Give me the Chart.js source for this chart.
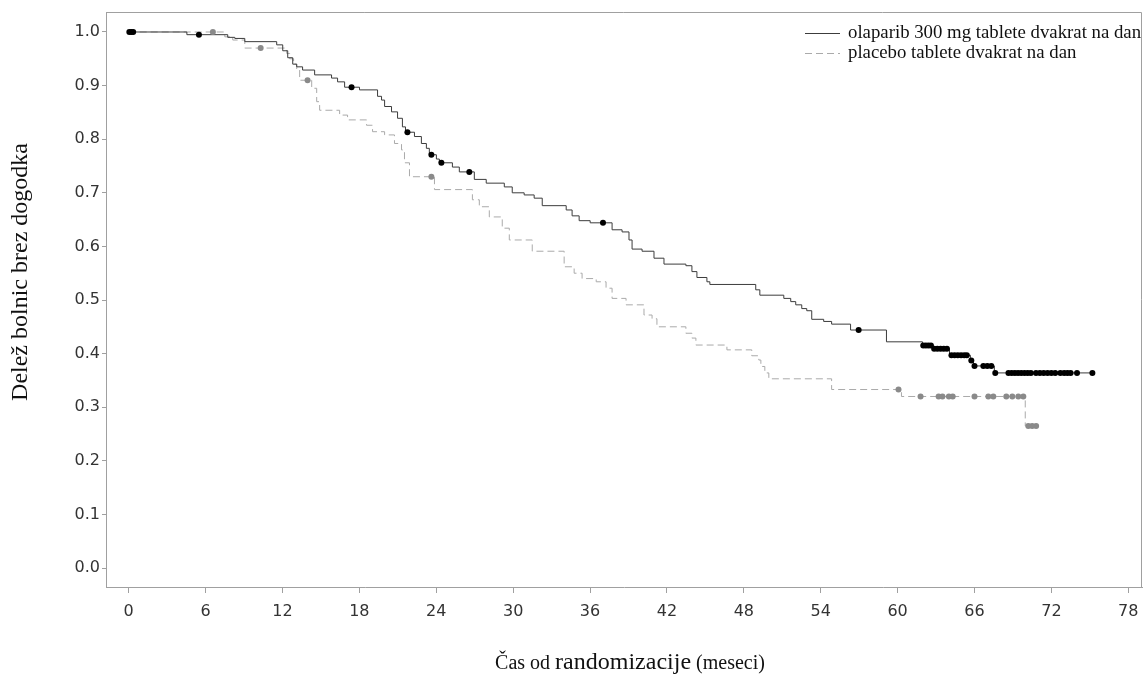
<!DOCTYPE html>
<html><head><meta charset="utf-8">
<script src="https://cdn.jsdelivr.net/npm/chart.js@4.4.1/dist/chart.umd.min.js"></script>
<style>html,body{margin:0;padding:0;background:#fff;} canvas{display:block;}</style>
</head><body>
<canvas id="c" width="1146" height="677"></canvas>
<script>
// ---------- data ----------
const xTicks = [0, 6, 12, 18, 24, 30, 36, 42, 48, 54, 60, 66, 72, 78];
const yTicks = [0.0, 0.1, 0.2, 0.3, 0.4, 0.5, 0.6, 0.7, 0.8, 0.9, 1.0];
const seriesNames = ["olaparib 300 mg tablete dvakrat na dan", "placebo tablete dvakrat na dan"];
const yTitle = "Delež bolnic brez dogodka";
const xTitleParts = ["Čas od ", "randomizacije", " (meseci)"];

// olaparib: event times (months) and survival after each step
const olapTime = [0, 4.54, 7.73, 8.28, 9.06, 11.55, 12.02, 12.41, 12.80, 13.11, 13.57, 14.51, 15.83, 16.30, 16.85, 18.01, 19.42, 19.73, 19.97, 20.51, 20.98, 21.36, 21.60, 22.30, 22.84, 23.23, 23.46, 24.01, 24.24, 25.26, 25.80, 26.97, 27.90, 29.31, 29.93, 30.86, 31.64, 32.27, 34.14, 34.60, 35.15, 36.01, 37.72, 38.50, 39.04, 39.28, 40.06, 40.99, 41.77, 43.48, 43.95, 44.34, 45.12, 45.35, 48.93, 49.25, 51.12, 51.66, 52.05, 52.52, 52.91, 53.30, 54.23, 54.85, 56.33, 59.13, 61.94, 62.72, 64.05, 65.68, 65.92, 67.55, 75.2];
const olapSurv = [1.0, 0.995, 0.990, 0.988, 0.982, 0.976, 0.965, 0.952, 0.940, 0.935, 0.929, 0.920, 0.914, 0.907, 0.897, 0.892, 0.880, 0.873, 0.861, 0.851, 0.839, 0.823, 0.813, 0.805, 0.792, 0.783, 0.771, 0.763, 0.756, 0.748, 0.739, 0.725, 0.718, 0.711, 0.700, 0.696, 0.690, 0.676, 0.668, 0.657, 0.648, 0.644, 0.631, 0.627, 0.612, 0.595, 0.591, 0.578, 0.567, 0.564, 0.553, 0.542, 0.534, 0.529, 0.519, 0.509, 0.503, 0.497, 0.491, 0.484, 0.480, 0.464, 0.460, 0.455, 0.444, 0.422, 0.415, 0.409, 0.397, 0.387, 0.377, 0.364, 0.364];
const olapCensor = [0.05, 0.2, 0.35, 5.48, 17.39, 21.75, 23.62, 24.40, 26.58, 37.01, 56.96, 62.0, 62.2, 62.4, 62.6, 62.85, 63.1, 63.35, 63.6, 63.85, 64.2, 64.45, 64.7, 64.95, 65.2, 65.4, 65.75, 66.0, 66.69, 67.0, 67.31, 67.62, 68.65, 68.9, 69.15, 69.4, 69.65, 69.9, 70.15, 70.4, 70.8, 71.1, 71.4, 71.7, 72.0, 72.3, 72.7, 73.0, 73.25, 73.5, 74.0, 75.2];

// placebo
const plcTime = [0, 7.5, 8.12, 9.06, 12.33, 12.56, 12.87, 13.11, 13.34, 14.28, 14.67, 14.90, 16.46, 17.08, 18.56, 19.03, 19.97, 20.74, 21.29, 21.52, 21.91, 23.86, 26.82, 27.36, 28.14, 29.15, 29.70, 31.49, 33.98, 34.76, 35.38, 36.48, 37.25, 37.72, 38.81, 40.21, 40.84, 41.22, 43.48, 43.95, 44.26, 46.68, 48.62, 49.17, 49.33, 49.64, 49.95, 54.85, 60.30, 69.96, 70.81];
const plcSurv = [1.0, 0.991, 0.985, 0.970, 0.960, 0.950, 0.940, 0.929, 0.910, 0.895, 0.870, 0.854, 0.845, 0.836, 0.826, 0.814, 0.808, 0.792, 0.780, 0.756, 0.730, 0.706, 0.687, 0.674, 0.655, 0.634, 0.612, 0.591, 0.562, 0.550, 0.540, 0.534, 0.522, 0.503, 0.491, 0.472, 0.465, 0.450, 0.438, 0.429, 0.416, 0.407, 0.396, 0.388, 0.376, 0.364, 0.353, 0.333, 0.320, 0.265, 0.265];
const plcCensor = [6.57, 10.30, 13.96, 23.62, 60.07, 61.79, 63.2, 63.5, 64.0, 64.3, 66.0, 67.08, 67.47, 68.48, 68.95, 69.42, 69.81, 70.2, 70.5, 70.81];

// ---------- helpers ----------
function survAt(times, surv, t) {
  let s = surv[0];
  for (let i = 0; i < times.length; i++) { if (times[i] <= t) s = surv[i]; else break; }
  return s;
}
const AXIS_COLOR = '#a0a0a0';
const SERIF = '"Liberation Serif", "Times New Roman", serif';

const decorPlugin = {
  id: 'decor',
  afterDraw(chart) {
    const {ctx, chartArea: a} = chart;
    ctx.save();
    // frame (top & right)
    ctx.strokeStyle = AXIS_COLOR; ctx.lineWidth = 1;
    ctx.beginPath();
    ctx.moveTo(a.left, a.top + 0.5); ctx.lineTo(a.right - 0.5, a.top + 0.5); ctx.lineTo(a.right - 0.5, a.bottom);
    ctx.stroke();
    // legend
    const lx0 = 805, lx1 = 840, tx = 848, rows = [33, 53];
    ctx.lineWidth = 1;
    ctx.strokeStyle = '#3c3c3c'; ctx.setLineDash([]);
    ctx.beginPath(); ctx.moveTo(lx0, rows[0] + 0.5); ctx.lineTo(lx1, rows[0] + 0.5); ctx.stroke();
    ctx.strokeStyle = '#aaaaaa'; ctx.setLineDash([7, 4]);
    ctx.beginPath(); ctx.moveTo(lx0, rows[1] + 0.5); ctx.lineTo(lx1, rows[1] + 0.5); ctx.stroke();
    ctx.setLineDash([]);
    ctx.fillStyle = '#111'; ctx.font = '18.8px ' + SERIF;
    ctx.textBaseline = 'middle'; ctx.textAlign = 'left';
    ctx.fillText(seriesNames[0], tx, rows[0]);
    ctx.fillText(seriesNames[1], tx, rows[1]);
    // y title
    ctx.save();
    ctx.translate(21, 272); ctx.rotate(-Math.PI / 2);
    ctx.font = '24px ' + SERIF;
    ctx.textAlign = 'center'; ctx.textBaseline = 'middle';
    ctx.fillText(yTitle, 0, 0);
    ctx.restore();
    // x title (mixed sizes)
    const sizes = [20, 24, 20];
    const fonts = sizes.map(s => s + 'px ' + SERIF);
    let widths = xTitleParts.map((p, i) => { ctx.font = fonts[i]; return ctx.measureText(p).width; });
    const total = widths.reduce((a, b) => a + b, 0);
    let x = 630 - total / 2; const base = 669;
    ctx.textAlign = 'left'; ctx.textBaseline = 'alphabetic';
    xTitleParts.forEach((p, i) => { ctx.font = fonts[i]; ctx.fillText(p, x, base); x += widths[i]; });
    ctx.restore();
  }
};

const tickFont = {family: '"DejaVu Sans", Verdana, sans-serif', size: 16};

new Chart(document.getElementById('c').getContext('2d'), {
  type: 'line',
  data: {
    datasets: [
      {type: 'scatter', data: olapCensor.map(t => ({x: t, y: survAt(olapTime, olapSurv, t)})), pointRadius: 3, pointBackgroundColor: '#000', pointBorderWidth: 0, showLine: false, order: 0},
      {type: 'scatter', data: plcCensor.map(t => ({x: t, y: survAt(plcTime, plcSurv, t)})), pointRadius: 3, pointBackgroundColor: '#8a8a8a', pointBorderWidth: 0, showLine: false, order: 0},
      {label: seriesNames[0], data: olapTime.map((t, i) => ({x: t, y: olapSurv[i]})), stepped: 'before', borderColor: '#3c3c3c', borderWidth: 1, pointRadius: 0, fill: false, order: 1},
      {label: seriesNames[1], data: plcTime.map((t, i) => ({x: t, y: plcSurv[i]})), stepped: 'before', borderColor: '#aaaaaa', borderDash: [7, 4], borderWidth: 1, pointRadius: 0, fill: false, order: 2}
    ]
  },
  options: {
    responsive: false, animation: false, devicePixelRatio: 1,
    layout: {padding: {top: 12, right: 1, left: 0, bottom: 0}},
    plugins: {legend: {display: false}, tooltip: {enabled: false}},
    scales: {
      x: {
        type: 'linear', min: -1.77, max: 79.07,
        afterBuildTicks: a => { a.ticks = xTicks.map(v => ({value: v})); },
        afterFit: s => { s.height = 90; s.paddingLeft = 0; s.paddingRight = 0; },
        ticks: {font: tickFont, color: '#333', padding: 9, maxRotation: 0, autoSkip: false, callback: v => String(v)},
        grid: {display: true, drawOnChartArea: false, tickLength: 6, color: AXIS_COLOR},
        border: {display: true, color: AXIS_COLOR}
      },
      y: {
        type: 'linear', min: -0.0354, max: 1.0373,
        afterBuildTicks: a => { a.ticks = yTicks.map(v => ({value: v})); },
        afterFit: s => { s.width = 106; s.paddingTop = 0; s.paddingBottom = 0; },
        ticks: {font: tickFont, color: '#333', padding: 2, autoSkip: false, callback: v => Number(v).toFixed(1)},
        grid: {display: true, drawOnChartArea: false, tickLength: 4, color: AXIS_COLOR},
        border: {display: true, color: AXIS_COLOR}
      }
    }
  },
  plugins: [decorPlugin]
});
</script>
</body></html>
